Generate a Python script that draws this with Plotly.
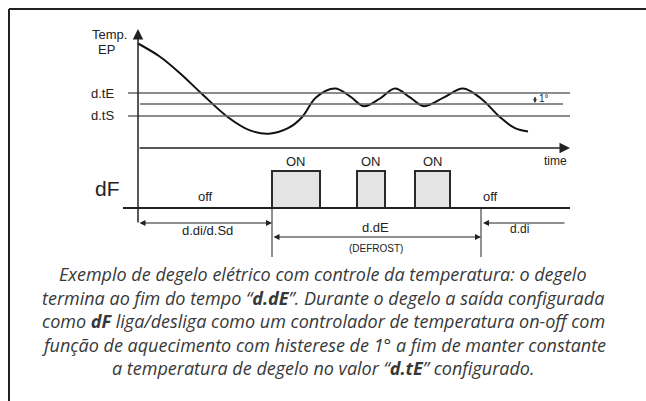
import plotly.graph_objects as go

W, H = 646, 401

# ---- data (time units from the vertical axis; temperature in degrees) ----
curve_time = [0, 22, 42, 63, 90, 112, 131, 150, 164, 178, 197, 212, 226, 242, 257, 272, 286, 306, 325, 343, 362, 377, 390]
curve_temp = [12.5, 11.3, 9.8, 8.0, 5.8, 4.6, 4.3, 4.8, 5.8, 7.6, 8.4, 7.7, 6.8, 7.5, 8.4, 7.6, 6.8, 7.6, 8.4, 7.5, 5.8, 4.8, 4.5]
level_names = ["d.tE", "", "d.tS"]
level_values = [8.0, 7.0, 5.9]
hysteresis_deg = 1
on_starts = [134, 219, 277]
on_ends = [182, 247, 312]
defrost_start, defrost_end = 134, 343
d_di_end = 428

AXIS_PX = 138  # pixel column of the time origin


def px(x):
    return x / W


def py(y):
    return 1 - y / H


fig = go.Figure()

# temperature curve
fig.add_trace(go.Scatter(x=curve_time, y=curve_temp, mode="lines",
                         line=dict(shape="spline", smoothing=1.0, color="#111111", width=2),
                         hoverinfo="skip", showlegend=False))

# dF on-periods
for s, e in zip(on_starts, on_ends):
    fig.add_trace(go.Scatter(x=[s, s, e, e], y=[0, 1, 1, 0], yaxis="y2", mode="lines",
                             fill="toself", fillcolor="#e4e4e4",
                             line=dict(color="#2a2a2a", width=2),
                             hoverinfo="skip", showlegend=False))

shapes = []
# frame (top and left)
shapes.append(dict(type="line", xref="paper", yref="paper", x0=px(9), x1=1, y0=py(9), y1=py(9),
                   line=dict(color="#222", width=2)))
shapes.append(dict(type="line", xref="paper", yref="paper", x0=px(9), x1=px(9), y0=py(9), y1=0,
                   line=dict(color="#222", width=2)))
# threshold lines
extents = [(-10, 432), (2, 425), (-10, 432)]
for v, (a, b) in zip(level_values, extents):
    shapes.append(dict(type="line", xref="x", yref="y", x0=a, x1=b, y0=v, y1=v,
                       line=dict(color="#666666", width=1.5)))
# dF baseline
shapes.append(dict(type="line", xref="x", yref="y2", x0=-15, x1=432, y0=0, y1=0,
                   line=dict(color="#222", width=2)))
# defrost boundary verticals
for t in [defrost_start, defrost_end]:
    shapes.append(dict(type="line", xref="x", yref="paper", x0=t, x1=t, y0=py(208), y1=py(257),
                       line=dict(color="#222", width=1)))

ann = []
# axes arrows
ann.append(dict(x=0, y=py(29), xref="x", yref="paper", ax=0, ay=195, axref="pixel", ayref="pixel",
                text="", showarrow=True, arrowhead=2, arrowsize=1.4, arrowwidth=1.5, arrowcolor="#222"))
ann.append(dict(x=432, y=py(148), xref="x", yref="paper", ax=-432, ay=0,
                text="", showarrow=True, arrowhead=2, arrowsize=1.4, arrowwidth=1.5, arrowcolor="#222"))
# hysteresis marker
ann.append(dict(x=535 - AXIS_PX, y=level_values[1], xref="x", yref="y", ax=0, ay=-10,
                text="", showarrow=True, arrowhead=2, arrowside="end+start", arrowsize=0.7,
                arrowwidth=1, arrowcolor="#333", standoff=1, startstandoff=1))
# dimension arrows
ann.append(dict(x=defrost_start, y=py(223), xref="x", yref="paper", ax=-defrost_start, ay=0,
                text="", showarrow=True, arrowhead=2, arrowside="end+start", arrowsize=1,
                arrowwidth=1.2, arrowcolor="#222"))
ann.append(dict(x=defrost_end, y=py(237), xref="x", yref="paper", ax=-(defrost_end - defrost_start), ay=0,
                text="", showarrow=True, arrowhead=2, arrowside="end+start", arrowsize=1,
                arrowwidth=1.2, arrowcolor="#222"))
ann.append(dict(x=defrost_end + 2, y=py(223), xref="x", yref="paper", ax=d_di_end - defrost_end - 2, ay=0,
                text="", showarrow=True, arrowhead=2, arrowsize=1,
                arrowwidth=1.2, arrowcolor="#222"))

lab_font = dict(family="Liberation Sans, Arial, sans-serif", size=13, color="#222")


def label(text, x, y, size=13, xanchor="center", family=None):
    f = dict(lab_font)
    f["size"] = size
    if family:
        f["family"] = family
    ann.append(dict(x=px(x), y=py(y), xref="paper", yref="paper", text=text, showarrow=False,
                    xanchor=xanchor, yanchor="middle", font=f))


label("Temp.", 109, 34)
label("EP", 106, 49)
label(level_names[0], 102, 93)
label(level_names[2], 102, 116)
label(f"{hysteresis_deg}°", 544, 98, size=10)
label("time", 555, 161, size=12)
for s, e in zip(on_starts, on_ends):
    label("ON", AXIS_PX + (s + e) / 2, 161, size=13)
label("dF", 108, 188, size=21)
label("off", 205, 196)
label("off", 490, 196)
label("d.di/d.Sd", 207, 230)
label("d.dE", 375, 227)
label("(DEFROST)", 376, 248, size=10, family="Liberation Sans Narrow, Liberation Sans, Arial")
label("d.di", 519, 229, size=12)

caption = [
    "Exemplo de degelo elétrico com controle da temperatura: o degelo",
    "termina ao fim do tempo “<b>d.dE</b>”. Durante o degelo a saída configurada",
    "como <b>dF</b> liga/desliga como um controlador de temperatura on-off com",
    "função de aquecimento com histerese de 1° a fim de manter constante",
    "a temperatura de degelo no valor “<b>d.tE</b>” configurado.",
]
cap_y = [274, 297.5, 321, 344.5, 368]
for t, yy in zip(caption, cap_y):
    ann.append(dict(x=px(323), y=py(yy), xref="paper", yref="paper", text=f"<i>{t}</i>",
                    showarrow=False, xanchor="center", yanchor="middle",
                    font=dict(family="Open Sans, sans-serif", size=18, color="#383838")))

fig.update_layout(
    width=W, height=H,
    margin=dict(l=0, r=0, t=0, b=0),
    paper_bgcolor="white", plot_bgcolor="white",
    xaxis=dict(range=[-AXIS_PX, W - AXIS_PX], visible=False, fixedrange=True),
    yaxis=dict(range=[8 - 308 / 11, 8 + 93 / 11], visible=False, fixedrange=True),
    yaxis2=dict(range=[(208 - H) / 37, 208 / 37], visible=False, overlaying="y", fixedrange=True),
    shapes=shapes, annotations=ann, showlegend=False,
)

fig.write_html("out.html", config={"displayModeBar": False},
               post_script="document.body.style.margin='0';document.body.style.overflow='hidden';")
